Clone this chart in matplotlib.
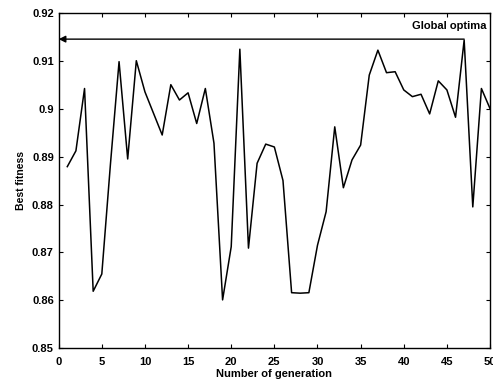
import matplotlib
matplotlib.use("Agg")
import matplotlib.pyplot as plt

# datos
generaciones = list(range(1, 51))
mejor_fitness = [
    0.8879, 0.8912, 0.9042, 0.8619, 0.8655, 0.8884, 0.9098, 0.8895, 0.9100, 0.9035,
    0.8990, 0.8945, 0.9050, 0.9018, 0.9033, 0.8969, 0.9042, 0.8928, 0.8601, 0.8712,
    0.9124, 0.8709, 0.8886, 0.8926, 0.8920, 0.8850, 0.8616, 0.8615, 0.8616, 0.8715,
    0.8785, 0.8962, 0.8835, 0.8893, 0.8924, 0.9070, 0.9122, 0.9075, 0.9077, 0.9039,
    0.9025, 0.9030, 0.8989, 0.9058, 0.9039, 0.8982, 0.9143, 0.8795, 0.9042, 0.9000,
]
optimo_x = 47
optimo_y = 0.9145
xticks = [0, 5, 10, 15, 20, 25, 30, 35, 40, 45, 50]
yticks = [0.85, 0.86, 0.87, 0.88, 0.89, 0.90, 0.91, 0.92]
ytick_labels = ["0.85", "0.86", "0.87", "0.88", "0.89", "0.9", "0.91", "0.92"]

plt.rcParams["font.family"] = ["Liberation Sans", "DejaVu Sans"]

fig = plt.figure(figsize=(4.93, 3.87), dpi=100)
ax = fig.add_axes([0.119, 0.100, 0.875, 0.867])

ax.plot(generaciones, mejor_fitness, color="black", linewidth=1.1)

# flecha del optimo global
ax.annotate("", xy=(0, optimo_y), xytext=(optimo_x, optimo_y),
            arrowprops=dict(arrowstyle="-|>", color="black", lw=1.0,
                            mutation_scale=10, shrinkA=0, shrinkB=0))
ax.text(49.6, 0.9172, "Global optima", ha="right", va="center",
        fontsize=8, fontweight="bold")

ax.set_xlim(0, 50)
ax.set_ylim(0.85, 0.92)
ax.set_xticks(xticks)
ax.set_yticks(yticks)
ax.set_yticklabels(ytick_labels)
ax.tick_params(direction="in", length=3, labelsize=8, width=0.8)
ax.tick_params(axis="x", pad=6)
for lbl in ax.get_xticklabels() + ax.get_yticklabels():
    lbl.set_fontweight("bold")
ax.tick_params(top=True, right=True)
ax.set_xlabel("Number of generation", fontsize=8, fontweight="bold", labelpad=2)
ax.set_ylabel("Best fitness", fontsize=7.5, fontweight="bold", labelpad=4)
for sp in ax.spines.values():
    sp.set_linewidth(1.0)

fig.savefig("out.png", dpi=100)
